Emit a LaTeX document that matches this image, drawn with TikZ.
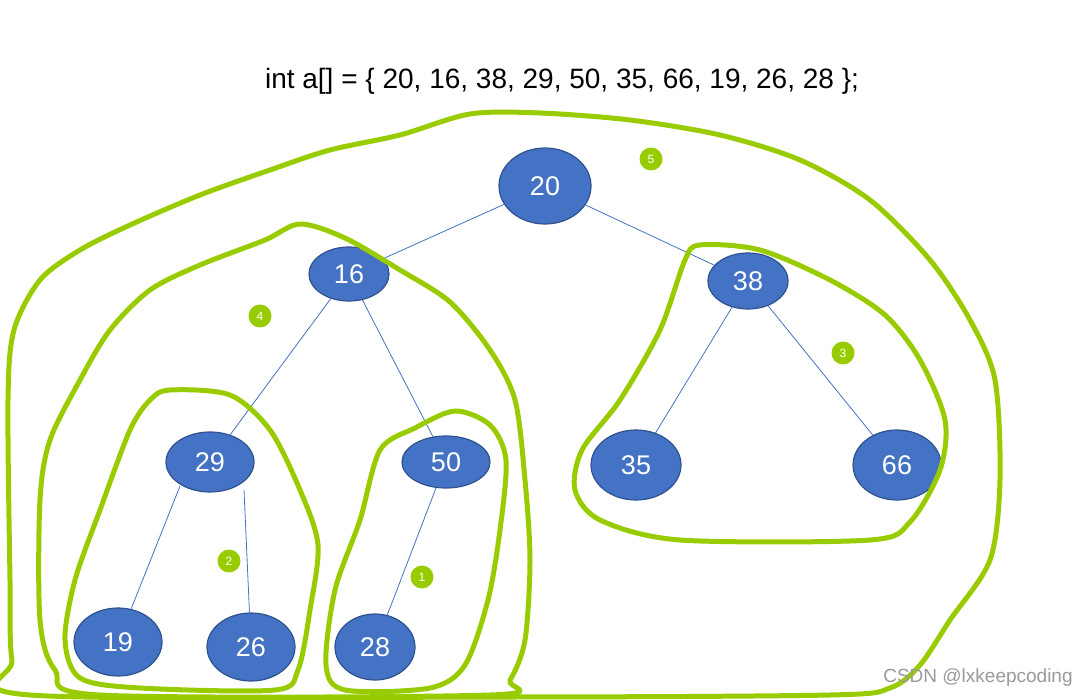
\documentclass[tikz,border=0pt]{standalone}
\usepackage{fontspec}
\setmainfont{Liberation Sans}
\definecolor{nodeblue}{RGB}{68,114,196}
\definecolor{nodeedge}{RGB}{47,82,143}
\definecolor{penGreen}{RGB}{153,204,0}
\tikzset{
  keynode/.style={ellipse, fill=nodeblue, draw=nodeedge, line width=1.2pt,
    text=white, font=\fontsize{27}{27}\selectfont, inner sep=0pt},
  treeline/.style={draw=nodeblue, line width=0.8pt},
  hand/.style={draw=penGreen, line width=5pt, line cap=round, line join=round},
  tag/.style={circle, fill=penGreen, text=white, minimum size=23pt, inner sep=0pt,
    font=\fontsize{12}{12}\selectfont}
}
\usetikzlibrary{shapes.geometric}
\begin{document}
\begin{tikzpicture}[x=1pt,y=-1pt]
    \useasboundingbox (0,0) rectangle (1089,700);
    \node (title) at (562,81) {\fontsize{28}{28}\selectfont int a[] = \{ 20, 16, 38, 29, 50, 35, 66, 19, 26, 28 \};};
    % tree
    \node[keynode, minimum width=92pt, minimum height=76pt] (n20) at (545,186) {20};
    \node[keynode, minimum width=80pt, minimum height=54pt] (n16) at (349,274) {16};
    \node[keynode, minimum width=80pt, minimum height=56pt] (n38) at (748,281) {38};
    \node[keynode, minimum width=88pt, minimum height=60pt] (n29) at (210,462) {29};
    \node[keynode, minimum width=88pt, minimum height=52pt] (n50) at (446,462) {50};
    \node[keynode, minimum width=90pt, minimum height=70pt] (n35) at (636,465) {35};
    \node[keynode, minimum width=88pt, minimum height=70pt] (n66) at (897,465) {66};
    \node[keynode, minimum width=88pt, minimum height=68pt] (n19) at (118,642) {19};
    \node[keynode, minimum width=88pt, minimum height=68pt] (n26) at (251,647) {26};
    \node[keynode, minimum width=80pt, minimum height=66pt] (n28) at (375,647) {28};
    \coordinate (c29a) at (180,486);
    \coordinate (c29b) at (244,490);
    \draw[treeline] (n20) -- (n16);
    \draw[treeline] (n20) -- (n38);
    \draw[treeline] (n16) -- (n29);
    \draw[treeline] (n16) -- (n50);
    \draw[treeline] (n38) -- (n35);
    \draw[treeline] (n38) -- (n66);
    \draw[treeline] (c29a) -- (n19);
    \draw[treeline] (c29b) -- (n26);
    \draw[treeline] (n50) -- (n28);
    % hand drawn groups
    \draw[hand] plot[smooth cycle] coordinates {(415,428) (455,411) (490,425) (506,460) (500,530) (488,600) (465,665) (430,688) (345,690) (326,665) (335,590) (360,520) (380,450)};
    \draw[hand] plot[smooth cycle] coordinates {(170,390) (230,395) (270,430) (300,490) (318,545) (310,610) (298,670) (275,690) (140,688) (80,678) (65,640) (75,580) (100,510) (130,430) (150,400)};
    \draw[hand] plot[smooth cycle] coordinates {(700,245) (760,250) (830,280) (885,315) (920,360) (945,420) (940,470) (910,522) (870,540) (680,540) (600,520) (575,490) (582,450) (620,400) (660,330) (685,260)};
    \draw[hand] plot[smooth cycle] coordinates {(300,224) (345,238) (400,270) (450,302) (490,350) (515,400) (525,480) (530,560) (525,640) (510,680) (490,695) (100,695) (55,670) (40,620) (40,500) (50,440) (80,380) (110,330) (150,290) (200,265) (265,240)};
    \draw[hand] plot[smooth cycle] coordinates {(470,114) (540,113) (630,120) (720,135) (800,160) (870,200) (930,260) (970,320) (995,380) (1000,480) (990,560) (950,620) (920,665) (890,688) (830,695) (500,697) (30,695) (12,660) (10,580) (8,400) (14,330) (40,280) (80,250) (130,225) (200,195) (270,170) (330,150) (400,135)};
    % labels
    \node[tag] (t5) at (651,159) {5};
    \node[tag] (t4) at (260,316) {4};
    \node[tag] (t3) at (843,353) {3};
    \node[tag] (t2) at (229,561) {2};
    \node[tag] (t1) at (422,577) {1};
    \node[text=black!40, font=\fontsize{19}{19}\selectfont] (mark) at (978,678) {CSDN @lxkeepcoding};
\end{tikzpicture}
\end{document}
